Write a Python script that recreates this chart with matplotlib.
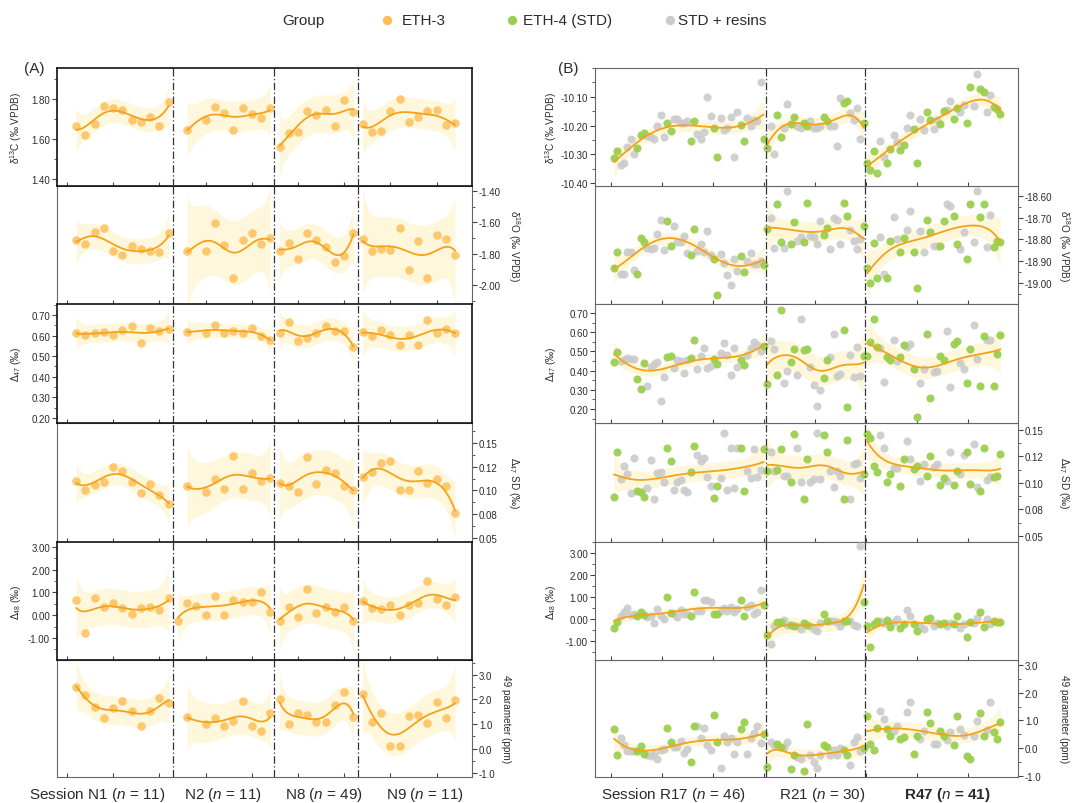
import numpy as np
import matplotlib
matplotlib.use("Agg")
import matplotlib.pyplot as plt
from matplotlib.ticker import FixedLocator, FixedFormatter, MultipleLocator, FormatStrFormatter

plt.rcParams["font.family"] = ["Liberation Sans", "DejaVu Sans"]
plt.rcParams["mathtext.fontset"] = "custom"
plt.rcParams["mathtext.rm"] = "Liberation Sans"
plt.rcParams["mathtext.it"] = "Liberation Sans:italic"
plt.rcParams["mathtext.bf"] = "Liberation Sans:bold"
plt.rcParams["mathtext.default"] = "regular"

nan = np.nan

# ---------------- Panel A (ETH-3 only) ----------------
A_sessions = ["N1", "N2", "N8", "N9"]
A_n = [11, 11, 49, 11]
A_counts = [11, 11, 9, 11]

A_d13C = [1.665, 1.62, 1.675, 1.763, 1.753, 1.745, 1.697, 1.687, 1.712, 1.663, 1.783,
          nan, 1.645, nan, 1.697, 1.758, 1.73, 1.647, 1.757, 1.725, 1.707, 1.753,
          1.562, 1.628, 1.633, 1.742, 1.718, 1.747, 1.663, 1.797, 1.733,
          1.675, 1.637, 1.64, 1.74, 1.798, 1.683, 1.71, 1.738, 1.743, 1.67, 1.68]
A_d18O = [-1.709, -1.736, -1.662, -1.638, -1.781, -1.808, -1.751, -1.772, -1.781, -1.789, -1.668,
          nan, -1.783, nan, -1.781, -1.602, -1.745, -1.955, -1.713, -1.668, -1.738, -1.70,
          -1.785, -1.73, -1.836, -1.668, -1.709, -1.757, -1.851, -1.817, -1.668,
          -1.704, -1.785, -1.772, -1.774, -1.634, -1.906, -1.717, -1.955, -1.679, -1.704, -1.808]
A_D47 = [0.612, 0.603, 0.611, 0.616, 0.603, 0.629, 0.645, 0.562, 0.635, 0.622, 0.632,
         nan, 0.619, nan, 0.611, 0.651, 0.612, 0.622, 0.612, 0.638, 0.596, 0.58,
         0.612, 0.664, 0.575, 0.588, 0.612, 0.645, 0.624, 0.624, 0.543,
         0.619, 0.596, 0.629, 0.603, 0.554, 0.603, 0.554, 0.677, 0.612, 0.632, 0.612]
A_D47SD = [0.110, 0.100, 0.106, 0.109, 0.125, 0.121, 0.109, 0.097, 0.107, 0.095, 0.086,
           nan, 0.1045, nan, 0.098, 0.112, 0.102, 0.136, 0.102, 0.118, 0.110, 0.113,
           0.108, 0.105, 0.098, 0.135, 0.107, 0.122, 0.118, 0.105, 0.101,
           0.114, 0.119, 0.129, 0.131, 0.100, 0.100, 0.120, 0.108, 0.112, 0.105, 0.076]
A_D48 = [0.66, -0.78, 0.77, 0.34, 0.52, 0.32, 0.04, 0.32, 0.38, 0.21, 0.74,
         -0.24, 0.53, 0.42, 0.03, 0.84, 0.01, 0.65, 0.58, 0.56, 1.0, 0.15,
         -0.24, 0.34, -0.10, 1.15, 0.10, 0.35, 0.16, 0.35, -0.25,
         0.63, 0.31, 0.28, 0.43, 0.0, 0.43, 0.53, 1.52, 0.71, 0.47, 0.8]
A_P49 = [2.49, 2.19, 1.70, 1.23, 1.65, 1.92, 1.54, 0.91, 1.54, 2.05, 1.84,
         nan, 1.27, nan, 1.0, 1.23, 0.93, 1.11, 1.92, 0.93, 0.73, 1.43,
         2.0, 1.0, 1.46, 1.38, 1.09, 1.09, 1.78, 2.32, 1.27,
         2.24, 1.09, 1.46, 0.12, 0.12, 1.31, 1.38, 1.03, 1.89, 1.26, 1.97]

# ---------------- Panel B (ETH-4 + STD/resins) ----------------
B_sessions = ["R17", "R21", "R47"]
B_n = [46, 30, 41]
B_counts = [46, 30, 41]
# G = ETH-4 (STD), S = STD + resins
B_group = ("GGSSSSSGGGSSSSSSGGSSSSSGGSSSSSGGSSSSSSGGSSSSSG"
           "GSSGGSSGGSSGGSSSSGGSSSSGGSSSSG"
           "GGGGSSGGSSGGSSGGSSGGSSGGSSGGSSGGSSGGSSGGG")

B_d13C = [-10.313, -10.289, -10.338, -10.33, -10.275, -10.248, -10.30, -10.277, -10.232, -10.225,
          -10.238, -10.24, -10.246, -10.20, -10.162, -10.24, -10.19, -10.22, -10.178, -10.178,
          -10.19, -10.19, -10.185, -10.253, -10.184, -10.23, -10.248, -10.223, -10.10, -10.167,
          -10.208, -10.31, -10.172, -10.215, -10.21, -10.17, -10.31, -10.154, -10.197, -10.253,
          -10.172, -10.20, -10.18, -10.185, -10.048, -10.248,
          -10.278, -10.202, -10.30, -10.162, -10.24, -10.21, -10.125, -10.194, -10.17, -10.20,
          -10.21, -10.19, -10.20, -10.185, -10.21, -10.21, -10.20, -10.17, -10.185, -10.20,
          -10.20, -10.27, -10.105, -10.12, -10.115, -10.155, -10.18, -10.14, -10.248, -10.19,
          -10.33, -10.356, -10.289, -10.366, -10.255, -10.309, -10.329, -10.281, -10.234, -10.257,
          -10.286, -10.266, -10.209, -10.162, -10.211, -10.33, -10.177, -10.214, -10.152, -10.18,
          -10.211, -10.18, -10.193, -10.148, -10.146, -10.114, -10.177, -10.14, -10.152, -10.128,
          -10.191, -10.066, -10.131, -10.022, -10.074, -10.082, -10.152, -10.093, -10.137, -10.143,
          -10.16]
B_d18O = [-18.93, -18.857, -18.96, -18.96, -18.857, -18.857, -18.943, -18.96, -18.795, -18.81,
          -18.838, -18.843, -18.838, -18.774, -18.712, -18.848, -18.715, -18.83, -18.738, -18.81,
          -18.81, -18.782, -18.862, -18.87, -18.75, -18.854, -18.823, -18.857, -18.762, -18.87,
          -18.888, -19.057, -18.866, -18.908, -18.962, -19.008, -18.888, -18.946, -18.877, -18.95,
          -18.90, -18.862, -18.912, -18.912, -18.90, -18.92,
          -18.75, -18.703, -18.838, -18.638, -18.81, -18.838, -18.577, -18.823, -18.718, -18.805,
          -18.789, -18.812, -18.631, -18.782, -18.789, -18.823, -18.715, -18.78, -18.746, -18.846,
          -18.70, -18.712, -18.823, -18.631, -18.692, -18.758, -18.808, -18.842, -18.80, -18.74,
          -18.934, -19.0, -18.815, -18.977, -18.79, -18.96, -18.977, -18.805, -18.697, -18.80,
          -18.857, -18.795, -18.758, -18.669, -18.857, -19.023, -18.76, -18.857, -18.708, -18.765,
          -18.83, -18.83, -18.83, -18.715, -18.635, -18.646, -18.692, -18.823, -18.846, -18.765,
          -18.888, -18.635, -18.81, -18.577, -18.697, -18.635, -18.834, -18.685, -18.834, -18.808,
          -18.81]
B_D47 = [0.444, 0.497, 0.45, 0.455, 0.465, 0.462, 0.458, 0.357, 0.305, 0.441,
         0.319, 0.418, 0.436, 0.444, 0.243, 0.366, 0.47, 0.476, 0.413, 0.453,
         0.45, 0.389, 0.453, 0.467, 0.557, 0.406, 0.476, 0.517, 0.413, 0.423,
         0.458, 0.436, 0.49, 0.545, 0.483, 0.375, 0.517, 0.418, 0.453, 0.427,
         0.483, 0.517, 0.549, 0.531, 0.50, 0.53,
         0.331, 0.552, 0.51, 0.378, 0.717, 0.335, 0.40, 0.447, 0.514, 0.378,
         0.67, 0.505, 0.51, 0.418, 0.323, 0.218, 0.30, 0.36, 0.457, 0.47,
         0.592, 0.37, 0.383, 0.61, 0.21, 0.48, 0.366, 0.523, 0.37, 0.476,
         0.476, 0.549, 0.67, 0.523, 0.517, 0.343, 0.47, 0.453, 0.557, 0.448,
         0.47, 0.531, 0.523, 0.54, 0.41, 0.157, 0.336, 0.41, 0.592, 0.257,
         0.392, 0.40, 0.476, 0.453, 0.604, 0.314, 0.54, 0.552, 0.44, 0.406,
         0.336, 0.514, 0.636, 0.462, 0.319, 0.58, 0.557, 0.561, 0.319, 0.488,
         0.587]
B_D47SD = [0.0866, 0.1288, 0.1038, 0.1156, 0.1084, 0.0906, 0.1238, 0.0928, 0.0913, 0.0866,
           0.095, 0.1216, 0.085, 0.109, 0.11, 0.1006, 0.1328, 0.1206, 0.0938, 0.1006,
           0.1031, 0.0938, 0.0913, 0.1106, 0.135, 0.1263, 0.1206, 0.1231, 0.1053, 0.0975,
           0.0856, 0.0975, 0.1044, 0.1469, 0.0938, 0.1334, 0.095, 0.1334, 0.1334, 0.0928,
           0.1116, 0.105, 0.1325, 0.1053, 0.112, 0.1325,
           0.111, 0.129, 0.111, 0.1125, 0.132, 0.107, 0.107, 0.101, 0.146, 0.133,
           0.101, 0.085, 0.1225, 0.1006, 0.1038, 0.1475, 0.1038, 0.145, 0.129, 0.111,
           0.096, 0.111, 0.107, 0.085, 0.141, 0.085, 0.118, 0.119, 0.105, 0.108,
           0.146, 0.142, 0.1156, 0.11, 0.145, 0.1334, 0.1006, 0.1084, 0.1138, 0.1138,
           0.0975, 0.1225, 0.1397, 0.1225, 0.113, 0.116, 0.102, 0.118, 0.107, 0.125,
           0.115, 0.118, 0.098, 0.105, 0.102, 0.129, 0.098, 0.111, 0.108, 0.126,
           0.129, 0.099, 0.137, 0.096, 0.092, 0.133, 0.103, 0.106, 0.106, 0.107,
           0.127]
B_D48 = [-0.41, -0.15, 0.12, 0.33, 0.48, 0.18, 0.23, 0.12, 0.30, 0.18,
         0.08, 0.12, -0.18, 0.45, 0.12, 0.0, 0.98, 0.27, 0.23, 0.08,
         0.42, 0.23, 0.23, 0.12, 1.24, 0.38, 0.38, 0.88, 0.88, 0.79,
         0.23, 0.23, 0.38, 0.48, 0.38, 0.53, 0.33, 0.45, 0.88, 0.15,
         0.53, 0.64, 0.23, 0.30, 1.33, 0.62,
         -0.73, -1.15, -0.30, -0.15, -0.15, -0.05, -0.25, -0.25, -0.30, -0.30,
         -0.45, -0.20, -0.25, -0.30, -0.45, -0.55, -0.20, 0.22, -0.10, -0.08,
         -0.10, -0.15, -0.30, -0.08, -0.08, -0.10, -0.25, -0.30, 3.30, 0.78,
         -0.33, -1.29, -0.23, -0.08, -0.09, -0.18, -0.03, -0.38, -0.15, 0.0,
         -0.42, -0.23, 0.41, 0.12, -0.23, -0.53, -0.33, -0.45, 0.0, 0.03,
         -0.3, -0.18, -0.23, -0.2, -0.3, -0.18, -0.23, 0.12, -0.42, -0.23,
         -0.83, -0.15, -0.18, 0.03, 0.3, -0.38, 0.0, -0.23, -0.08, -0.12,
         -0.15]
B_P49 = [0.69, -0.24, 0.38, 0.12, -0.12, -0.12, -0.10, -0.12, 0.07, -0.20,
         -0.24, -0.30, -0.22, -0.38, -0.05, -0.02, 0.72, 0.22, 0.04, 0.04,
         0.27, -0.17, -0.02, -0.50, 0.81, 0.79, 0.36, 0.72, 0.12, -0.05,
         1.21, 0.22, -0.72, 0.45, 0.22, 0.36, -0.20, 0.22, 0.69, 0.96,
         -0.20, 0.36, 0.55, 0.81, 0.20, 0.50,
         -0.68, 0.22, 0.10, 0.15, 0.05, 0.03, 0.24, -0.74, -0.26, -0.32,
         -0.38, -0.84, 0.87, -0.26, -0.50, -0.72, -0.26, 0.12, 0.04, -0.26,
         -0.08, -0.24, 0.0, -0.05, -0.26, -0.60, 0.22, 0.39, -0.10, 0.0,
         1.15, 0.16, -0.05, 0.72, 1.35, 1.05, 0.69, 0.45, 0.63, 0.81,
         0.33, 0.39, 1.29, 1.67, -0.2, 0.45, 0.33, 0.63, 1.31, 0.9,
         0.16, 0.16, 0.63, 0.45, 0.31, 0.57, 0.12, 1.15, 0.69, 0.48,
         -0.3, -0.38, 0.45, 0.99, 1.27, 0.43, 0.67, 1.67, 0.57, 0.33,
         0.96]

row_labels = ["δ$^{13}$C (‰ VPDB)", "δ$^{18}$O (‰ VPDB)", "Δ$_{47}$ (‰)",
              "Δ$_{47}$ SD (‰)", "Δ$_{48}$ (‰)", "49 parameter (ppm)"]
sd_ticks = [0.05, 0.075, 0.10, 0.125, 0.15]
sd_ticklabels = ["0.05", "0.08", "0.10", "0.12", "0.15"]

# ---------------- style ----------------
W, H = 1073, 804
ORANGE = "#FDBD52"
LINE = "#F5A21A"
BAND = "#FFF7DB"
GREEN = "#9BCF4F"
GREY = "#CBCBCB"
TXT = "#2b2b2b"

ROW_EDGES = [69, 187, 305, 424, 543, 661, 778]
A_X = (57, 472)
B_X = (595, 1018)

A_ylims = [(1.365, 1.955), (-2.12, -1.368), (0.176, 0.753), (0.0458, 0.171), (-1.97, 3.22), (-1.16, 3.61)]
B_ylims = [(-10.41, -10.0), (-19.098, -18.553), (0.127, 0.747), (0.0443, 0.1566), (-1.86, 3.5), (-1.04, 3.18)]
A_yticks = [
    ([1.40, 1.60, 1.80], 0.1, "%.2f"),
    ([-2.0, -1.8, -1.6, -1.4], 0.1, "%.2f"),
    ([0.2, 0.3, 0.4, 0.5, 0.6, 0.7], 0.05, "%.2f"),
    (sd_ticks, 0.0125, None),
    ([-1, 0, 1, 2, 3], 0.5, "%.2f"),
    ([-1, 0, 1, 2, 3], 0.5, "%.1f"),
]
B_yticks = [
    ([-10.4, -10.3, -10.2, -10.1], 0.05, "%.2f"),
    ([-19.0, -18.9, -18.8, -18.7, -18.6], 0.05, "%.2f"),
    ([0.2, 0.3, 0.4, 0.5, 0.6, 0.7], 0.05, "%.2f"),
    (sd_ticks, 0.0125, None),
    ([-1, 0, 1, 2, 3], 0.5, "%.2f"),
    ([-1, 0, 1, 2, 3], 0.5, "%.1f"),
]


def local_fit(x, y, grid, frac):
    x = np.asarray(x, float)
    y = np.asarray(y, float)
    h = frac * (x.max() - x.min())

    def weights_row(x0):
        w = np.exp(-0.5 * ((x - x0) / h) ** 2)
        X = np.vstack([np.ones_like(x), x - x0, (x - x0) ** 2]).T
        XtW = X.T * w
        A = XtW @ X + 1e-9 * np.eye(3)
        return np.linalg.solve(A, XtW)[0]

    Lg = np.array([weights_row(g) for g in grid])
    Lx = np.array([weights_row(xi) for xi in x])
    res = y - Lx @ y
    dof = max(len(x) - np.trace(Lx), 1.0)
    sigma = np.sqrt(np.sum(res ** 2) / dof)
    return Lg @ y, 1.96 * sigma * np.sqrt(np.sum(Lg ** 2, axis=1))


def draw_fit(ax, x, y, frac, mult):
    x = np.asarray(x, float)
    y = np.asarray(y, float)
    m = ~np.isnan(y)
    x, y = x[m], y[m]
    grid = np.linspace(x.min(), x.max(), 150)
    yg, hw = local_fit(x, y, grid, frac)
    ax.fill_between(grid, yg - mult * hw, yg + mult * hw, color=BAND, lw=0, zorder=1)
    ax.plot(grid, yg, color=LINE, lw=1.3, zorder=5, solid_capstyle="round")


def add_ax(fig, x0, x1, y0, y1):
    return fig.add_axes([x0 / W, 1 - y1 / H, (x1 - x0) / W, (y1 - y0) / H])


def style_ax(ax, row, ylim, tickspec, xlim, xticks, seps, dark):
    ax.set_xlim(*xlim)
    ax.set_ylim(*ylim)
    ax.set_xticks(xticks)
    ax.set_xticklabels([])
    ticks, minor, fmt = tickspec
    ax.yaxis.set_major_locator(FixedLocator(ticks))
    ax.yaxis.set_minor_locator(MultipleLocator(minor))
    if fmt is None:
        ax.yaxis.set_major_formatter(FixedFormatter(sd_ticklabels))
    else:
        ax.yaxis.set_major_formatter(FormatStrFormatter(fmt))
    if row % 2 == 1:
        ax.yaxis.tick_right()
    else:
        ax.yaxis.tick_left()
    ax.tick_params(axis="y", which="major", length=3.5, width=0.8, direction="out",
                   labelsize=7, colors="#444", labelcolor=TXT, pad=1.5)
    ax.tick_params(axis="y", which="minor", length=2, width=0.6, direction="out", colors="#444")
    ax.tick_params(axis="x", which="major", length=3, width=0.8, direction="in", colors="#444")
    for s in ax.spines.values():
        if dark:
            s.set_color("#111")
            s.set_linewidth(1.2)
        else:
            s.set_color("#666")
            s.set_linewidth(0.8)
    for sx in seps:
        ax.axvline(sx, color="#333", lw=0.9, ls=(0, (6, 2, 1, 2)), zorder=6)


fig = plt.figure(figsize=(W / 100, H / 100), dpi=100)

# ---------------- Panel A ----------------
A_k = np.arange(1, sum(A_counts) + 1)
A_rows = [A_d13C, A_d18O, A_D47, A_D47SD, A_D48, A_P49]
A_xlim = (-1.08, 43.83)
A_xticks = [0, 5, 10, 15, 20, 25, 30, 35, 40]
A_seps = [11.5, 22.45, 31.5]
A_bounds = np.cumsum([0] + A_counts)

order = [1, 3, 5, 0, 2, 4]
for r in order:
    ax = add_ax(fig, A_X[0], A_X[1], ROW_EDGES[r], ROW_EDGES[r + 1])
    vals = np.asarray(A_rows[r], float)
    for i in range(len(A_counts)):
        sl = slice(A_bounds[i], A_bounds[i + 1])
        draw_fit(ax, A_k[sl], vals[sl], 0.2, 1.7)
    ax.scatter(A_k, vals, s=38, color=ORANGE, alpha=0.8, lw=0, zorder=4)
    style_ax(ax, r, A_ylims[r], A_yticks[r], A_xlim, A_xticks, A_seps, dark=(r % 2 == 0))

# ---------------- Panel B ----------------
B_k = np.arange(sum(B_counts))
B_rows = [B_d13C, B_d18O, B_D47, B_D47SD, B_D48, B_P49]
B_xlim = (-5.7, 121.3)
B_xticks = [-0.9 + 15.3 * j for j in range(8)]
B_seps = [45.5, 75.5]
B_bounds = np.cumsum([0] + B_counts)
grp = np.array(list(B_group))

for r in order:
    ax = add_ax(fig, B_X[0], B_X[1], ROW_EDGES[r], ROW_EDGES[r + 1])
    vals = np.asarray(B_rows[r], float)
    for i in range(len(B_counts)):
        sl = slice(B_bounds[i], B_bounds[i + 1])
        draw_fit(ax, B_k[sl], vals[sl], 0.18, 1.0)
    ms = grp == "S"
    mg = grp == "G"
    ax.scatter(B_k[ms], vals[ms], s=34, color=GREY, alpha=0.9, lw=0, zorder=3)
    ax.scatter(B_k[mg], vals[mg], s=34, color=GREEN, alpha=0.95, lw=0, zorder=3)
    style_ax(ax, r, B_ylims[r], B_yticks[r], B_xlim, B_xticks, B_seps, dark=False)

# ---------------- overlay: labels, legend ----------------
ov = fig.add_axes([0, 0, 1, 1])
ov.set_xlim(0, W)
ov.set_ylim(H, 0)
ov.axis("off")
ov.patch.set_visible(False)

for r in range(6):
    yc = (ROW_EDGES[r] + ROW_EDGES[r + 1]) / 2
    if r % 2 == 0:
        ov.text(16, yc, row_labels[r], rotation=90, ha="center", va="center", fontsize=7.2, color=TXT)
        ov.text(551, yc, row_labels[r], rotation=90, ha="center", va="center", fontsize=7.2, color=TXT)
    else:
        xa = 506 if r == 5 else 514
        ov.text(xa, yc, row_labels[r], rotation=270, ha="center", va="center", fontsize=7.2, color=TXT)
        ov.text(1064, yc, row_labels[r], rotation=270, ha="center", va="center", fontsize=7.2, color=TXT)

ov.text(34, 69, "(A)", ha="center", va="center", fontsize=11, color=TXT)
ov.text(568, 69, "(B)", ha="center", va="center", fontsize=11, color=TXT)

A_label_x = [97, 223, 324, 425]
for i, (s, n) in enumerate(zip(A_sessions, A_n)):
    pre = "Session " if i == 0 else ""
    ov.text(A_label_x[i], 795, pre + s + " ($\\mathit{n}$ = %d)" % n, ha="center", va="center",
            fontsize=11, color=TXT)
B_label_x = [673, 822, 947]
for i, (s, n) in enumerate(zip(B_sessions, B_n)):
    pre = "Session " if i == 0 else ""
    if i == 2:
        ov.text(B_label_x[i], 795, s + " ($\\mathit{n}$ = %d)" % n, ha="center", va="center",
                fontsize=11, color=TXT, fontweight="bold")
    else:
        ov.text(B_label_x[i], 795, pre + s + " ($\\mathit{n}$ = %d)" % n, ha="center",
                va="center", fontsize=11, color=TXT)

# legend
ov.text(282, 21, "Group", ha="left", va="center", fontsize=11, color=TXT)
leg_items = [("ETH-3", ORANGE, 387, 402), ("ETH-4 (STD)", GREEN, 512, 523), ("STD + resins", GREY, 670, 678)]
for lab, col, xd, xt in leg_items:
    ov.scatter([xd], [21], s=45, color=col, lw=0)
    ov.text(xt, 21, lab, ha="left", va="center", fontsize=11, color=TXT)

fig.savefig("out.png", dpi=100)
